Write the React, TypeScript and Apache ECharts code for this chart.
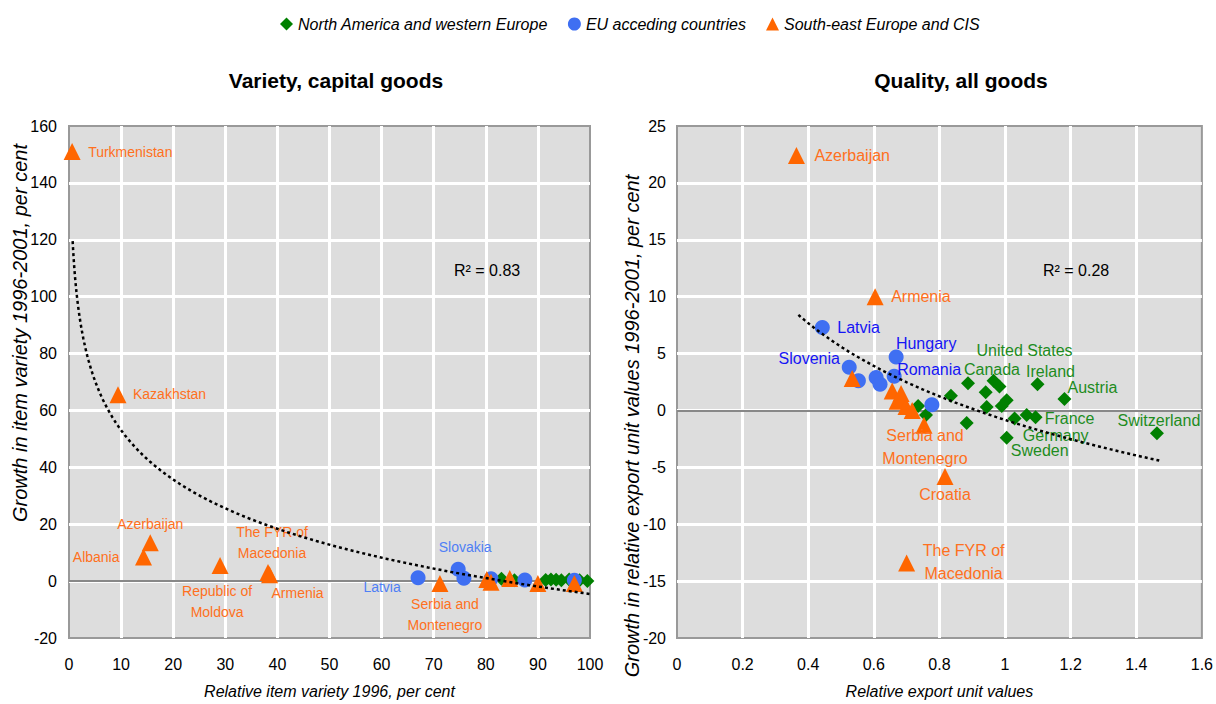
import React, { useEffect, useRef } from "react";
import * as echarts from "echarts";

const FONT = "Liberation Sans, Arial, sans-serif";

const SERIES_NAMES = [
  "North America and western Europe",
  "EU acceding countries",
  "South-east Europe and CIS",
];
const COLORS = ["#008000", "#3F6FF2", "#FF6600"];
const SYMBOLS = ["diamond", "circle", "triangle"];
const SIZES = [14, 15, 17];

// ---------- Left chart: Variety, capital goods ----------
const leftNaWe = [
  [83.0, 0.8], [85.5, 0.3], [91.5, 0.4], [92.5, 0.6], [93.5, 0.5],
  [94.5, 0.3], [96.0, 0.6], [98.0, 0.3], [99.5, 0.0],
];
const leftNaWeNames = ["", "", "", "", "", "", "", "", ""];

const leftEu = [
  [67.0, 1.2], [74.7, 4.2], [75.8, 1.0], [81.0, 0.8], [87.5, 0.4], [97.0, 0.3],
];
const leftEuNames = ["Latvia", "Slovakia", "", "", "", ""];

const leftSee = [
  [0.6, 151], [9.4, 65.5], [15.6, 13.5], [14.3, 8.5], [29.0, 5.5],
  [38.2, 3.0], [38.5, 2.2], [71.2, -0.8], [80.2, 0.6], [81.0, -0.4],
  [84.6, 0.9], [90.0, -0.8], [97.0, -0.8],
];
const leftSeeNames = [
  "Turkmenistan", "Kazakhstan", "Azerbaijan", "Albania", "Moldova",
  "FYR", "Armenia", "Serbia", "", "", "", "", "",
];

const leftTrend = { a: 110.6, b: -25.0, from: 0.7, to: 100, r2: "R\u00B2 = 0.83" };

// ---------- Right chart: Quality, all goods ----------
const rightNaWe = [
  [0.735, 0.4], [0.759, -0.4], [0.835, 1.3], [0.887, 2.4], [0.883, -1.1],
  [0.941, 1.6], [0.944, 0.3], [0.965, 2.6], [0.983, 2.1], [0.990, 0.4],
  [1.005, 0.9], [1.005, -2.4], [1.029, -0.7], [1.066, -0.4], [1.093, -0.6],
  [1.099, 2.3], [1.181, 1.0], [1.463, -2.0],
];
const rightNaWeNames = [
  "", "", "", "Canada", "", "", "", "United States", "", "",
  "", "Sweden", "", "Germany", "France", "Ireland", "Austria", "Switzerland",
];

const rightEu = [
  [0.443, 7.3], [0.525, 3.8], [0.553, 2.6], [0.607, 2.9], [0.619, 2.3],
  [0.662, 3.0], [0.668, 4.7], [0.777, 0.5],
];
const rightEuNames = ["Latvia", "Slovenia", "", "", "", "Romania", "Hungary", ""];

const rightSee = [
  [0.364, 22.4], [0.604, 10.0], [0.534, 2.8], [0.656, 1.7], [0.683, 1.5],
  [0.671, 0.8], [0.686, 1.0], [0.698, 0.35], [0.717, 0.0], [0.753, -1.3],
  [0.817, -5.8], [0.700, -13.4],
];
const rightSeeNames = [
  "Azerbaijan", "Armenia", "", "", "", "", "", "", "", "Serbia", "Croatia", "FYR",
];

const rightTrend = { a: -0.83, b: -9.28, from: 0.37, to: 1.47, r2: "R\u00B2 = 0.28" };

const LEFT_TITLE = "Variety, capital goods";
const RIGHT_TITLE = "Quality, all goods";
const LEFT_X_NAME = "Relative item variety 1996, per cent";
const LEFT_Y_NAME = "Growth in item variety 1996-2001, per cent";
const RIGHT_X_NAME = "Relative export unit values";
const RIGHT_Y_NAME = "Growth in relative export unit values 1996-2001, per cent";

// Label placement (pixel offsets from the marker centre) — styling only
type LabelSpec = { text: string; dx: number; dy: number; align?: string };
const leftLabels: Record<string, LabelSpec> = {
  Turkmenistan: { text: "Turkmenistan", dx: 16, dy: 0, align: "left" },
  Kazakhstan: { text: "Kazakhstan", dx: 15, dy: -1, align: "left" },
  Azerbaijan: { text: "Azerbaijan", dx: 0, dy: -19 },
  Albania: { text: "Albania", dx: -24, dy: 0, align: "right" },
  Moldova: { text: "Republic of\nMoldova", dx: -3, dy: 36 },
  FYR: { text: "The FYR of\nMacedonia", dx: 4, dy: -30 },
  Armenia: { text: "Armenia", dx: 28, dy: 18 },
  Serbia: { text: "Serbia and\nMontenegro", dx: 5, dy: 31 },
  Latvia: { text: "Latvia", dx: -36, dy: 9 },
  Slovakia: { text: "Slovakia", dx: 7, dy: -22 },
};
const rightLabels: Record<string, LabelSpec> = {
  Azerbaijan: { text: "Azerbaijan", dx: 18, dy: 0, align: "left" },
  Armenia: { text: "Armenia", dx: 16, dy: 0, align: "left" },
  Latvia: { text: "Latvia", dx: 15, dy: 0, align: "left" },
  Slovenia: { text: "Slovenia", dx: -40, dy: -9 },
  Hungary: { text: "Hungary", dx: 30, dy: -13 },
  Romania: { text: "Romania", dx: 35, dy: -7 },
  Serbia: { text: "Serbia and\nMontenegro", dx: 1, dy: 22 },
  Croatia: { text: "Croatia", dx: 0, dy: 18 },
  FYR: { text: "The FYR of\nMacedonia", dx: 57, dy: -1 },
  "United States": { text: "United States", dx: 31, dy: -30 },
  Canada: { text: "Canada", dx: 24, dy: -14 },
  Ireland: { text: "Ireland", dx: 13, dy: -13 },
  Austria: { text: "Austria", dx: 28, dy: -12 },
  France: { text: "France", dx: 34, dy: 1 },
  Germany: { text: "Germany", dx: 29, dy: 21 },
  Sweden: { text: "Sweden", dx: 33, dy: 13 },
  Switzerland: { text: "Switzerland", dx: 2, dy: -13 },
};

const LEFT_LABEL_COLORS = ["#1E8C1E", "#4F7FF5", "#FF7020"];
const RIGHT_LABEL_COLORS = ["#1E8C1E", "#1515F5", "#FF7020"];

function buildData(points: number[][], names: string[], specs: Record<string, LabelSpec>, color: string, fontSize: number, lineHeight: number) {
  return points.map((p, i) => {
    const s = names[i] ? specs[names[i]] : undefined;
    if (!s) return { value: p };
    return {
      value: p,
      label: {
        show: true,
        formatter: s.text,
        position: "inside",
        offset: [s.dx, s.dy],
        align: s.align || "center",
        verticalAlign: "middle",
        color,
        fontSize,
        lineHeight,
        fontFamily: FONT,
      },
    };
  });
}

function trendPoints(t: { a: number; b: number; from: number; to: number }) {
  const pts: number[][] = [];
  const n = 80;
  for (let i = 0; i <= n; i++) {
    const x = t.from * Math.pow(t.to / t.from, i / n);
    pts.push([x, t.a + t.b * Math.log(x)]);
  }
  return pts;
}

function scatterSeries(idx: number, gridIdx: number, data: any[], withZero: boolean) {
  const s: any = {
    type: "scatter",
    name: SERIES_NAMES[idx],
    xAxisIndex: gridIdx,
    yAxisIndex: gridIdx,
    symbol: SYMBOLS[idx],
    symbolSize: SIZES[idx],
    itemStyle: { color: COLORS[idx], opacity: 1 },
    data,
    z: 3 + idx,
  };
  if (withZero) {
    s.markLine = {
      silent: true,
      symbol: ["none", "none"],
      label: { show: false },
      lineStyle: { color: "#888888", width: 2, type: "solid" },
      data: [{ yAxis: 0 }],
      z: 2,
    };
  }
  return s;
}

const TICK_LABEL = { color: "#000", fontSize: 16, fontFamily: FONT };
const NAME_STYLE = { color: "#000", fontSize: 16, fontStyle: "italic", fontFamily: FONT };

function axisCommon() {
  return {
    axisLine: { show: false, onZero: false },
    axisTick: { show: false },
    splitLine: { show: true, showMinLine: false, showMaxLine: false, lineStyle: { color: "#FFFFFF", width: 3 } },
    nameTextStyle: NAME_STYLE,
    nameLocation: "middle",
  };
}

function vText(text: string, x: number, y: number) {
  return {
    type: "text",
    x,
    y,
    rotation: Math.PI / 2,
    style: { text, font: `italic 20px ${FONT}`, fill: "#000", textAlign: "center", textVerticalAlign: "middle" },
  };
}

export default function App() {
  const ref = useRef<HTMLDivElement>(null);
  useEffect(() => {
    if (!ref.current) return;
    const chart = echarts.init(ref.current, null, { renderer: "svg" });
    const option: any = {
      animation: false,
      textStyle: { fontFamily: FONT },
      legend: {
        top: 11,
        left: 275,
        itemWidth: 13,
        itemHeight: 13,
        itemGap: 20,
        textStyle: { fontSize: 16, fontStyle: "italic", color: "#000", fontFamily: FONT },
        data: SERIES_NAMES.map((n, i) => ({ name: n, icon: SYMBOLS[i], itemStyle: { color: COLORS[i] } })),
      },
      graphic: [
        { type: "text", x: 336, y: 80, style: { text: LEFT_TITLE, font: `bold 21px ${FONT}`, fill: "#000", textAlign: "center", textVerticalAlign: "middle" } },
        { type: "text", x: 961, y: 80, style: { text: RIGHT_TITLE, font: `bold 21px ${FONT}`, fill: "#000", textAlign: "center", textVerticalAlign: "middle" } },
        { type: "text", x: 454, y: 270, z: 10, style: { text: leftTrend.r2, font: `16px ${FONT}`, fill: "#000", textAlign: "left", textVerticalAlign: "middle" } },
        { type: "text", x: 1043, y: 270, z: 10, style: { text: rightTrend.r2, font: `16px ${FONT}`, fill: "#000", textAlign: "left", textVerticalAlign: "middle" } },
        vText(LEFT_Y_NAME, 20, 333),
        vText(RIGHT_Y_NAME, 632, 426),
      ],
      grid: [
        { left: 69, right: 626, top: 126, bottom: 60, show: true, backgroundColor: "#DDDDDD", borderColor: "#999999", borderWidth: 2 },
        { left: 677, right: 12, top: 126, bottom: 60, show: true, backgroundColor: "#DDDDDD", borderColor: "#999999", borderWidth: 2 },
      ],
      xAxis: [
        { ...axisCommon(), type: "value", gridIndex: 0, min: 0, max: 100, interval: 10, name: LEFT_X_NAME, nameGap: 45, axisLabel: { ...TICK_LABEL, margin: 18 } },
        { ...axisCommon(), type: "value", gridIndex: 1, min: 0, max: 1.6, interval: 0.2, name: RIGHT_X_NAME, nameGap: 45, axisLabel: { ...TICK_LABEL, margin: 18 } },
      ],
      yAxis: [
        { ...axisCommon(), type: "value", gridIndex: 0, min: -20, max: 160, interval: 20, axisLabel: { ...TICK_LABEL, margin: 12 } },
        { ...axisCommon(), type: "value", gridIndex: 1, min: -20, max: 25, interval: 5, axisLabel: { ...TICK_LABEL, margin: 11 } },
      ],
      series: [
        scatterSeries(0, 0, buildData(leftNaWe, leftNaWeNames, leftLabels, LEFT_LABEL_COLORS[0], 14, 21), true),
        scatterSeries(1, 0, buildData(leftEu, leftEuNames, leftLabels, LEFT_LABEL_COLORS[1], 14, 21), false),
        scatterSeries(2, 0, buildData(leftSee, leftSeeNames, leftLabels, LEFT_LABEL_COLORS[2], 14, 21), false),
        {
          type: "line", name: "trendLeft", xAxisIndex: 0, yAxisIndex: 0, showSymbol: false, symbol: "none",
          lineStyle: { color: "#000", width: 2.5, type: [3, 3] }, data: trendPoints(leftTrend), z: 8, silent: true,
        },
        scatterSeries(0, 1, buildData(rightNaWe, rightNaWeNames, rightLabels, RIGHT_LABEL_COLORS[0], 16, 23), true),
        scatterSeries(1, 1, buildData(rightEu, rightEuNames, rightLabels, RIGHT_LABEL_COLORS[1], 16, 23), false),
        scatterSeries(2, 1, buildData(rightSee, rightSeeNames, rightLabels, RIGHT_LABEL_COLORS[2], 16, 23), false),
        {
          type: "line", name: "trendRight", xAxisIndex: 1, yAxisIndex: 1, showSymbol: false, symbol: "none",
          lineStyle: { color: "#000", width: 2.5, type: [3, 3] }, data: trendPoints(rightTrend), z: 8, silent: true,
        },
      ],
    };
    chart.setOption(option);
    return () => chart.dispose();
  }, []);
  return (
    <div
      ref={ref}
      style={{ position: "fixed", left: 0, top: 0, width: 1216, height: 704, background: "#fff" }}
    />
  );
}
